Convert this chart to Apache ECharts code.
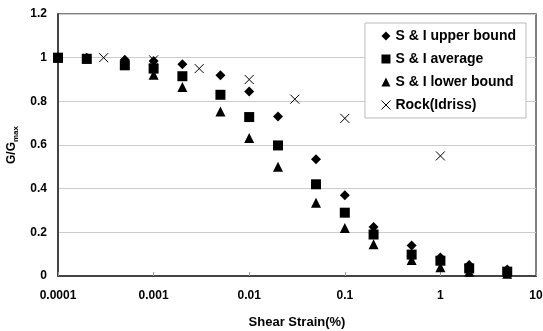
<!DOCTYPE html>
<html><head><meta charset="utf-8">
<script src="https://cdn.jsdelivr.net/npm/echarts@6/dist/echarts.min.js"></script>
<style>html,body{margin:0;padding:0;background:#fff}#c{width:543px;height:331px}</style>
</head><body><div id="c"></div>
<script>
const strainSI = [0.0001, 0.0002, 0.0005, 0.001, 0.002, 0.005, 0.01, 0.02, 0.05, 0.1, 0.2, 0.5, 1, 2, 5];
const upperBound = [1.0, 1.0, 0.99, 0.985, 0.97, 0.92, 0.845, 0.73, 0.535, 0.37, 0.225, 0.14, 0.085, 0.05, 0.03];
const averageVals = [1.0, 0.995, 0.965, 0.95, 0.915, 0.83, 0.728, 0.598, 0.42, 0.29, 0.19, 0.098, 0.07, 0.035, 0.02];
const lowerBound = [1.0, 0.995, 0.975, 0.922, 0.866, 0.754, 0.632, 0.5, 0.335, 0.22, 0.145, 0.073, 0.04, 0.02, 0.01];
const strainRock = [0.0003, 0.001, 0.003, 0.01, 0.03, 0.1, 1];
const rockIdriss = [1.0, 0.99, 0.95, 0.9, 0.81, 0.722, 0.55];
const seriesNames = ['S & I upper bound', 'S & I average', 'S & I lower bound', 'Rock(Idriss)'];

const pair = (xs, ys) => xs.map((x, i) => [x, ys[i]]);
const font = 'Arial, "Liberation Sans", sans-serif';
const crossPath = 'path://M0,0L10,10M10,0L0,10';

const chart = echarts.init(document.getElementById('c'));
chart.setOption({
  animation: false,
  backgroundColor: '#fff',
  grid: { left: 58, right: 7, top: 14, bottom: 55, outerBoundsMode: 'none', containLabel: false,
    show: true, borderColor: '#555', borderWidth: 1.5 },
  legend: {
    orient: 'vertical', right: 17, top: 23,
    backgroundColor: '#fff', borderColor: '#bbb', borderWidth: 1,
    padding: [5, 10, 5, 14], itemGap: 7, itemWidth: 9, itemHeight: 9,
    textStyle: { fontFamily: font, fontWeight: 'bold', fontSize: 14, color: '#000', lineHeight: 16 },
    data: [
      { name: seriesNames[0], icon: 'diamond' },
      { name: seriesNames[1], icon: 'rect' },
      { name: seriesNames[2], icon: 'triangle' },
      { name: seriesNames[3], icon: crossPath, itemStyle: { color: 'none', borderColor: '#000', borderWidth: 1, opacity: 1 } }
    ]
  },
  xAxis: {
    type: 'log', logBase: 10, min: 0.0001, max: 10,
    name: 'Shear Strain(%)', nameLocation: 'middle', nameGap: 40,
    nameTextStyle: { fontFamily: font, fontWeight: 'bold', fontSize: 13, color: '#000' },
    axisLine: { lineStyle: { color: '#444', width: 2 } },
    axisTick: { inside: true, length: 4, lineStyle: { color: '#999' } },
    splitLine: { show: false },
    minorTick: { show: false },
    axisLabel: {
      fontFamily: font, fontWeight: 'bold', fontSize: 12, color: '#000', margin: 14,
      formatter: v => String(Number(v.toPrecision(6)))
    }
  },
  yAxis: {
    type: 'value', min: 0, max: 1.2, interval: 0.2,
    name: 'G/G{sub|max}', nameLocation: 'middle', nameGap: 36, nameRotate: 90,
    nameTextStyle: { fontFamily: font, fontWeight: 'bold', fontSize: 12, color: '#000',
      rich: { sub: { fontFamily: font, fontWeight: 'bold', fontSize: 8, color: '#000', padding: [7, 0, 0, 0] } } },
    axisLine: { show: true, lineStyle: { color: '#444', width: 2 } },
    axisTick: { show: false },
    splitLine: { lineStyle: { color: '#ccc', width: 1 } },
    axisLabel: {
      fontFamily: font, fontWeight: 'bold', fontSize: 12, color: '#000', margin: 11,
      formatter: v => String(Number(v.toFixed(1)))
    }
  },
  series: [
    { name: seriesNames[0], type: 'scatter', symbol: 'diamond', symbolSize: 10, itemStyle: { color: '#000', opacity: 1 }, data: pair(strainSI, upperBound) },
    { name: seriesNames[1], type: 'scatter', symbol: 'rect', symbolSize: 10, itemStyle: { color: '#000', opacity: 1 }, data: pair(strainSI, averageVals) },
    { name: seriesNames[2], type: 'scatter', symbol: 'triangle', symbolSize: 10, itemStyle: { color: '#000', opacity: 1 }, data: pair(strainSI, lowerBound) },
    { name: seriesNames[3], type: 'scatter', symbol: crossPath, symbolSize: 9, itemStyle: { color: 'none', borderColor: '#000', borderWidth: 1, opacity: 1 }, data: pair(strainRock, rockIdriss) }
  ]
});
</script></body></html>
